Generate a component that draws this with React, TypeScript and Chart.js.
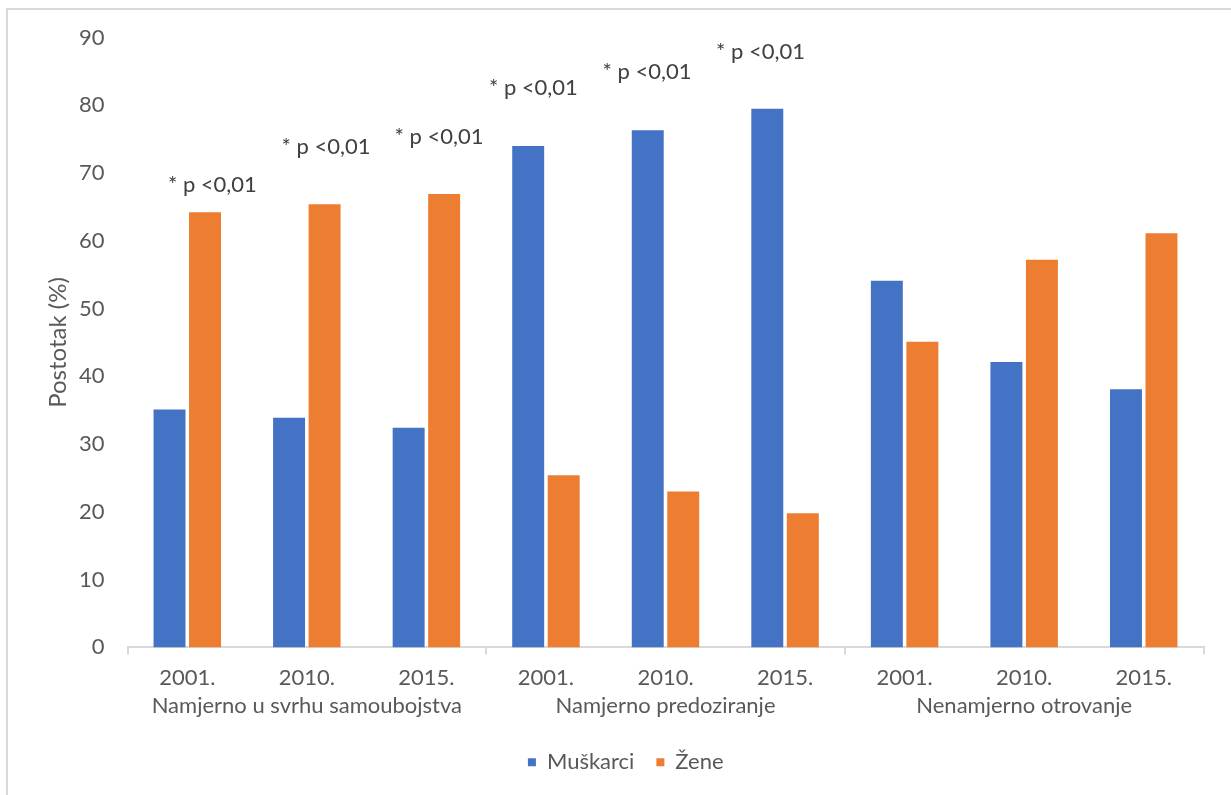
import { useEffect, useRef } from 'react';
import { Chart, registerables } from 'chart.js';

Chart.register(...registerables);

// ---- data ----
const categories = ['2001.', '2010.', '2015.', '2001.', '2010.', '2015.', '2001.', '2010.', '2015.'];
const groupLabels = ['Namjerno u svrhu samoubojstva', 'Namjerno predoziranje', 'Nenamjerno otrovanje'];
const muskarci = [35.1, 33.9, 32.4, 74.0, 76.3, 79.5, 54.1, 42.1, 38.1];
const zene = [64.2, 65.4, 66.9, 25.4, 23.0, 19.8, 45.1, 57.2, 61.1];
const seriesNames = ['Muškarci', 'Žene'];
const yMin = 0;
const yMax = 90;
const yStep = 10;
const yTitle = 'Postotak (%)';

// significance notes: category index, value level, shift (fraction of category width)
const noteText = '* p <0,01';
const noteCategories = [0, 1, 2, 3, 4, 5];
const noteLevels = [68.2, 73.8, 75.4, 82.5, 84.9, 87.9];
const noteShift = [0.21, 0.16, 0.105, -0.105, -0.155, -0.205];

const FONT = 'Lato';
const FS = 22;
const TEXT = '#595959';
const AXIS = '#D9D9D9';

const decorations = {
  id: 'decorations',
  afterLayout(chart: any) {
    if (chart.legend) {
      chart.legend.left += 24;
      chart.legend.right += 24;
    }
  },
  beforeDraw(chart: any) {
    const { ctx } = chart;
    ctx.save();
    ctx.strokeStyle = AXIS;
    ctx.lineWidth = 2;
    ctx.beginPath();
    ctx.moveTo(7, chart.height);
    ctx.lineTo(7, 9);
    ctx.lineTo(chart.width, 9);
    ctx.stroke();
    ctx.restore();
  },
  afterDraw(chart: any) {
    const { ctx } = chart;
    const x = chart.scales.x;
    const y = chart.scales.y;
    ctx.save();
    ctx.font = `${FS}px ${FONT}`;
    ctx.fillStyle = TEXT;
    ctx.textAlign = 'center';
    ctx.textBaseline = 'middle';
    groupLabels.forEach((label, g) => {
      const cx = (x.getPixelForValue(g * 3) + x.getPixelForValue(g * 3 + 2)) / 2;
      ctx.fillText(label, cx, x.top + 59);
    });
    const catW = x.width / categories.length;
    ctx.fillStyle = '#404040';
    noteCategories.forEach((c, i) => {
      ctx.fillText(noteText, x.getPixelForValue(c) + noteShift[i] * catW, y.getPixelForValue(noteLevels[i]));
    });
    ctx.restore();
  },
};

export default function App() {
  const ref = useRef<HTMLCanvasElement | null>(null);

  useEffect(() => {
    let chart: Chart | null = null;
    let cancelled = false;
    const make = () => {
      if (cancelled || !ref.current) return;
      chart = new Chart(ref.current, {
        type: 'bar',
        data: {
          labels: categories,
          datasets: [
            { label: seriesNames[0], data: muskarci, backgroundColor: '#4472C4' },
            { label: seriesNames[1], data: zene, backgroundColor: '#ED7D31' },
          ],
        },
        options: {
          responsive: false,
          maintainAspectRatio: false,
          animation: false,
          devicePixelRatio: 1,
          datasets: { bar: { categoryPercentage: 0.594, barPercentage: 0.9 } },
          layout: { padding: { left: 0, top: 37.5, right: 27.5, bottom: 11.8 } },
          plugins: {
            tooltip: { enabled: false },
            legend: {
              position: 'bottom',
              labels: {
                boxWidth: 8,
                boxHeight: 8,
                padding: 22,
                color: TEXT,
                font: { family: FONT, size: FS },
              },
            },
          },
          scales: {
            x: {
              grid: {
                drawOnChartArea: false,
                drawTicks: true,
                tickLength: 7,
                color: (c: any) => (c.index === undefined || c.index % 3 === 0 ? AXIS : 'rgba(0,0,0,0)'),
                tickColor: (c: any) => (c.index === undefined || c.index % 3 === 0 ? AXIS : 'rgba(0,0,0,0)'),
                lineWidth: 2,
              },
              border: { display: true, color: AXIS, width: 2 },
              ticks: {
                color: TEXT,
                font: { family: FONT, size: FS },
                padding: 10,
                maxRotation: 0,
                autoSkip: false,
              },
              afterFit: (s: any) => {
                s.height = 81.8;
              },
            },
            y: {
              min: yMin,
              max: yMax,
              grid: { display: false, drawTicks: false },
              border: { display: false },
              ticks: {
                stepSize: yStep,
                color: TEXT,
                padding: 23,
                font: { family: FONT, size: FS },
              },
              title: {
                display: true,
                text: yTitle,
                color: TEXT,
                font: { family: FONT, size: 24 },
                padding: { top: 43.6, bottom: 0 },
              },
              afterFit: (s: any) => {
                s.width = 127.5;
              },
            },
          },
        },
        plugins: [decorations],
      });
    };
    if ((document as any).fonts && (document as any).fonts.load) {
      (document as any).fonts.load(`${FS}px ${FONT}`).then(make, make);
    } else {
      make();
    }
    return () => {
      cancelled = true;
      if (chart) chart.destroy();
    };
  }, []);

  return (
    <div style={{ position: 'absolute', left: 0, top: 0, width: 1231, height: 795, background: '#fff' }}>
      <canvas ref={ref} width={1231} height={795} style={{ width: 1231, height: 795, display: 'block' }} />
    </div>
  );
}
